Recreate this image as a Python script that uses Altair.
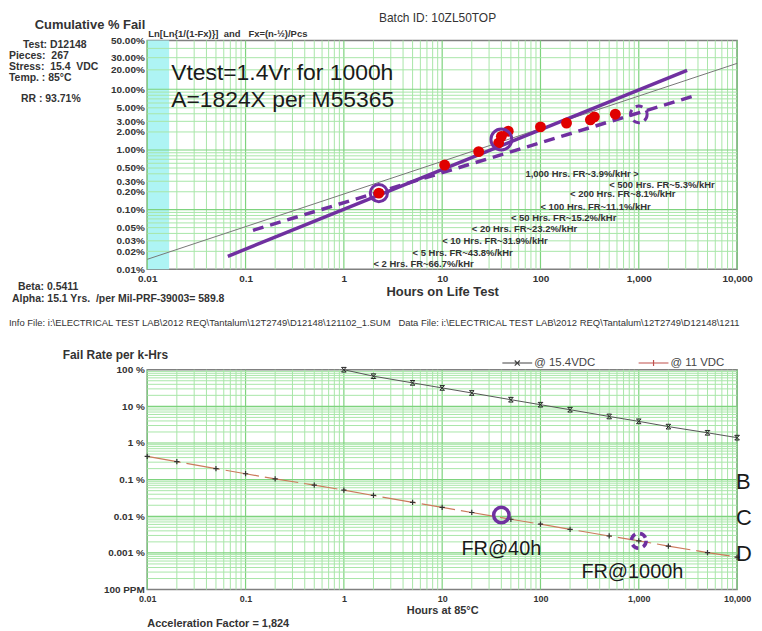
import math
import altair as alt
import pandas as pd

# ---------------- top panel (Weibull plot) ----------------
fail_hours = [2.27, 10.6, 23.5, 37.5, 40, 47, 100, 184, 322, 353, 577]
fail_pct = [0.19, 0.56, 0.94, 1.31, 1.69, 2.06, 2.43, 2.81, 3.18, 3.56, 3.93]

fit_hours = [0.01, 10000]
fit_pct = [0.0147, 24.9]
solid_hours = [0.066, 3100]
solid_pct = [0.0165, 19.6]
dash_hours = [0.119, 3840]
dash_pct = [0.045, 8.0]

ring_hours = [2.27, 40, 1000]
ring_pct = [0.19, 1.5, 3.9]

band_hours = [0.01, 0.0167]

fr_text = ["1,000 Hrs. FR~3.9%/kHr >", "< 500 Hrs. FR~5.3%/kHr", "< 200 Hrs. FR~8.1%/kHr",
           "< 100 Hrs. FR~11.1%/kHr", "< 50 Hrs. FR~15.2%/kHr", "< 20 Hrs. FR~23.2%/kHr",
           "< 10 Hrs. FR~31.9%/kHr", "< 5 Hrs. FR~43.8%/kHr", "< 2 Hrs. FR~66.7%/kHr"]
fr_hours = [1000, 500, 200, 100, 50, 20, 10, 5, 2]
fr_pct = [0.402, 0.263, 0.180, 0.113, 0.0712, 0.0466, 0.0295, 0.0186, 0.0122]

note_text = ["Vtest=1.4Vr for 1000h", "A=1824X per M55365"]
note_hours = [0.0175, 0.0175]
note_pct = [17.8, 6.6]

top_tick_pct = [50, 30, 20, 10, 5, 3, 2, 1, 0.5, 0.3, 0.2, 0.1, 0.05, 0.03, 0.02, 0.01]
top_grid_pct = [0.02, 0.03, 0.04, 0.05, 0.06, 0.07, 0.08, 0.09,
                0.2, 0.3, 0.4, 0.5, 0.6, 0.7, 0.8, 0.9,
                2, 3, 4, 5, 6, 7, 8, 9, 20, 30, 40]
top_major_pct = [0.1, 1, 10]

hour_ticks = [0.01, 0.1, 1, 10, 100, 1000, 10000]
hour_minor = [k * 10.0 ** e for e in range(-2, 4) for k in range(2, 10)]

# ---------------- bottom panel (fail rate) ----------------
hv_hours = [1, 2, 5, 10, 20, 50, 100, 200, 500, 1000, 2000, 5000, 10000]
hv_rate = [100, 66.7, 43.8, 31.9, 23.2, 15.2, 11.1, 8.1, 5.3, 3.9, 2.8, 1.9, 1.4]
lv_hours = [0.01, 0.02, 0.05, 0.1, 0.2, 0.5, 1, 2, 5, 10, 20, 50, 100, 200, 500, 1000, 2000, 5000, 10000]
lv_rate = [0.43, 0.31, 0.20, 0.145, 0.105, 0.071, 0.052, 0.037, 0.024, 0.0175, 0.0127,
           0.0083, 0.0061, 0.0044, 0.0029, 0.00214, 0.00154, 0.00102, 0.00077]
series_names = ["@ 15.4VDC", "@ 11 VDC"]

bot_ring_hours = [40, 1000]
bot_ring_rate = [0.0108, 0.00214]
bot_note_text = ["FR@40h", "FR@1000h"]
bot_note_hours = [40, 860]
bot_note_rate = [0.00128, 0.000305]
letter_text = ["B", "C", "D"]
letter_hours = [10000, 10000, 10000]
letter_rate = [0.085, 0.0089, 0.00094]

bot_tick_rate = [100, 10, 1, 0.1, 0.01, 0.001, 0.0001]
bot_minor_rate = [k * 10.0 ** e for e in range(-4, 2) for k in range(2, 10)]
bot_major_rate = [0.001, 0.01, 0.1, 1, 10]

# ---------------- styling ----------------
FONT = "Liberation Sans"
PURPLE = "#7030A0"
MINOR = "#a8e6a8"
MAJOR = "#7ed37e"
TXT = "#333333"
NB = "\u00a0"
W = 593
H_TOP = 230
H_BOT = 221

xs = alt.Scale(type="log", domain=[0.01, 10000], nice=False)
wlo = math.log(-math.log(1 - 0.0001))
whi = math.log(-math.log(1 - 0.5))
ys_top = alt.Scale(domain=[wlo, whi], nice=False, zero=False)
ys_bot = alt.Scale(type="log", domain=[0.0001, 100], nice=False)

WEXPR = "log(-log(1 - datum.pct/100))"
top_y_values = [math.log(-math.log(1 - p / 100)) for p in top_tick_pct]

AX_T = alt.Axis(values=hour_ticks, format=",", grid=False, ticks=False, domain=False, labelFlush=False,
                labelFont=FONT, labelFontSize=10, labelFontWeight="bold", labelColor=TXT, labelPadding=4,
                title="Hours on Life Test", titleFont=FONT, titleFontSize=13, titleFontWeight="bold",
                titleColor=TXT, titlePadding=2)
AY_T = alt.Axis(values=top_y_values, labelExpr="format(100*(1-exp(-exp(datum.value))), '.2f') + '%'",
                grid=False, ticks=False, domain=False, labelOverlap=False, labelBound=False,
                labelFont=FONT, labelFontSize=10, labelFontWeight="bold", labelColor=TXT, labelPadding=3,
                title=None)
AX_B = alt.Axis(values=hour_ticks, format=",", grid=False, ticks=False, domain=False, labelFlush=False,
                labelFont=FONT, labelFontSize=9, labelFontWeight="bold", labelColor=TXT, labelPadding=5,
                title="Hours at 85\u00b0C", titleFont=FONT, titleFontSize=11, titleFontWeight="bold",
                titleColor=TXT, titlePadding=1)
AY_B = alt.Axis(values=bot_tick_rate,
                labelExpr="datum.value < 0.0005 ? '100 PPM' : format(datum.value, ',') + ' %'",
                grid=False, ticks=False, domain=False, labelOverlap=False, labelBound=False,
                labelFont=FONT, labelFontSize=10, labelFontWeight="bold", labelColor=TXT, labelPadding=3,
                title=None)


def tchart(df):
    return alt.Chart(df).transform_calculate(w=WEXPR)


XT = alt.X("hours:Q", scale=xs, axis=AX_T)
YT = alt.Y("w:Q", scale=ys_top, axis=AY_T)
XB = alt.X("hours:Q", scale=xs, axis=AX_B)
YB = alt.Y("rate:Q", scale=ys_bot, axis=AY_B)


def label(text, x, y, size=10, weight="bold", align="left", color=TXT, baseline="middle", **kw):
    return alt.Chart(pd.DataFrame({"t": [text]})).mark_text(
        font=FONT, fontSize=size, fontWeight=weight, align=align, baseline=baseline,
        color=color, **kw
    ).encode(x=alt.value(x), y=alt.value(y), text="t:N")


# ---- top layers
band = alt.Chart(pd.DataFrame({"hours": [band_hours[0]], "b": [band_hours[1]]})).mark_rect(
    color="#aef4f4").encode(x=XT, x2="b:Q")
vminor_t = alt.Chart(pd.DataFrame({"hours": hour_minor})).mark_rule(color=MINOR, strokeWidth=1).encode(x=XT)
vmajor_t = alt.Chart(pd.DataFrame({"hours": hour_ticks})).mark_rule(color=MAJOR, strokeWidth=1.2).encode(x=XT)
hminor_t = tchart(pd.DataFrame({"pct": top_grid_pct})).mark_rule(color=MINOR, strokeWidth=1).encode(y=YT)
hmajor_t = tchart(pd.DataFrame({"pct": top_major_pct})).mark_rule(color=MAJOR, strokeWidth=1.2).encode(y=YT)

fit = tchart(pd.DataFrame({"hours": fit_hours, "pct": fit_pct})).mark_line(
    color="#777777", strokeWidth=1).encode(x=XT, y=YT)
solid = tchart(pd.DataFrame({"hours": solid_hours, "pct": solid_pct})).mark_line(
    color=PURPLE, strokeWidth=3.5).encode(x=XT, y=YT)
dashed = tchart(pd.DataFrame({"hours": dash_hours, "pct": dash_pct})).mark_line(
    color=PURPLE, strokeWidth=3.5, strokeDash=[11, 7]).encode(x=XT, y=YT)

points = tchart(pd.DataFrame({"hours": fail_hours, "pct": fail_pct})).mark_circle(
    color="#e00000", size=120, opacity=1).encode(x=XT, y=YT)

ring_df = pd.DataFrame({"hours": ring_hours, "pct": ring_pct})
ring1 = tchart(ring_df.iloc[[0]]).mark_point(shape="circle", size=300, strokeWidth=3, color=PURPLE,
                                            filled=False, opacity=1).encode(x=XT, y=YT)
ring2 = tchart(ring_df.iloc[[1]]).mark_point(shape="circle", size=440, strokeWidth=3, color=PURPLE,
                                            filled=False, opacity=1).encode(x=XT, y=YT)
ring3 = tchart(ring_df.iloc[[2]]).mark_point(shape="circle", size=280, strokeWidth=3, color=PURPLE,
                                            filled=False, opacity=1, strokeDash=[7, 5]).encode(x=XT, y=YT)

fr_df = pd.DataFrame({"hours": fr_hours, "pct": fr_pct, "t": fr_text})
fr_right = tchart(fr_df.iloc[[0]]).mark_text(font=FONT, fontSize=9.5, fontWeight="bold", align="right",
                                            color=TXT).encode(x=XT, y=YT, text="t:N")
fr_left = tchart(fr_df.iloc[1:]).mark_text(font=FONT, fontSize=9.5, fontWeight="bold", align="left",
                                          color=TXT).encode(x=XT, y=YT, text="t:N")
notes = tchart(pd.DataFrame({"hours": note_hours, "pct": note_pct, "t": note_text})).mark_text(
    font=FONT, fontSize=23, align="left", color="#1a1a1a").encode(x=XT, y=YT, text="t:N")

info_line = ("Info File: i:\\ELECTRICAL TEST LAB\\2012 REQ\\Tantalum\\12T2749\\D12148\\121102_1.SUM" + NB * 3 +
             "Data File: i:\\ELECTRICAL TEST LAB\\2012 REQ\\Tantalum\\12T2749\\D12148\\121102_1.DAT")

top_texts = [
    label(" ", -139, -30, size=1, baseline="top", color="white"),
    label(" ", -139, 291, size=1, baseline="bottom", color="white"),
    label("Cumulative % Fail", -2, -16, size=13, align="right"),
    label("Batch ID: 10ZL50TOP", 233, -23, size=12, weight="normal"),
    label("Ln[Ln{1/(1-Fx)}]" + NB * 2 + "and" + NB * 3 + "Fx=(n-\u00bd)/Pcs", 1, -7, size=9.5),
    label("Test: D12148", -125, 5, size=10.5),
    label("Pieces:" + NB * 2 + "267", -139, 16, size=10.5),
    label("Stress:" + NB * 2 + "15.4" + NB * 2 + "VDC", -139, 27, size=10.5),
    label("Temp. : 85\u00b0C", -139, 38, size=10.5),
    label("RR : 93.71%", -127, 59, size=10.5),
    label("Beta: 0.5411", -130, 248, size=10.5),
    label("Alpha: 15.1 Yrs." + NB * 2 + "/per Mil-PRF-39003= 589.8", -136, 260, size=10.5),
    label(info_line, -139, 284, size=9.5, weight="normal", limit=744, ellipsis=NB),
]

top = alt.layer(band, vminor_t, vmajor_t, hminor_t, hmajor_t, fit, solid, dashed, points,
                ring1, ring2, ring3, fr_right, fr_left, notes, *top_texts).properties(
    width=W, height=H_TOP)

# ---- bottom layers
vminor_b = alt.Chart(pd.DataFrame({"hours": hour_minor})).mark_rule(color=MINOR, strokeWidth=1).encode(x=XB)
vmajor_b = alt.Chart(pd.DataFrame({"hours": hour_ticks})).mark_rule(color=MAJOR, strokeWidth=1.2).encode(x=XB)
hminor_b = alt.Chart(pd.DataFrame({"rate": bot_minor_rate})).mark_rule(color=MINOR, strokeWidth=1).encode(y=YB)
hmajor_b = alt.Chart(pd.DataFrame({"rate": bot_major_rate})).mark_rule(color=MAJOR, strokeWidth=1.2).encode(y=YB)

hv_df = pd.DataFrame({"hours": hv_hours, "rate": hv_rate})
lv_df = pd.DataFrame({"hours": lv_hours, "rate": lv_rate})
hv_line = alt.Chart(hv_df).mark_line(color="#555555", strokeWidth=1).encode(x=XB, y=YB)
lv_line = alt.Chart(lv_df).mark_line(color="#cc7a5c", strokeWidth=1.2, strokeDash=[34, 6]).encode(x=XB, y=YB)

XMARK = "M-1,-1L1,-1L-1,1L1,1Z"
PLUS = "M-1,0L1,0M0,-1L0,1"
hv_pts = alt.Chart(hv_df).mark_point(shape=XMARK, size=22, color="#222222", strokeWidth=1,
                                     filled=False, opacity=1).encode(x=XB, y=YB)
lv_pts = alt.Chart(lv_df).mark_point(shape=PLUS, size=28, color="#333333", strokeWidth=1.2,
                                     filled=False, opacity=1).encode(x=XB, y=YB)

legend_df = pd.DataFrame({"series": series_names, "hours": [1, 1], "rate": [1, 1]})
legend_layer = alt.Chart(legend_df).transform_filter("false").mark_point(
    filled=False, strokeWidth=1.2, opacity=1).encode(
    x=XB, y=YB,
    color=alt.Color("series:N", scale=alt.Scale(domain=series_names, range=["#444444", "#c0504d"]),
                    legend=alt.Legend(orient="none", legendX=356, legendY=-23, direction="horizontal",
                                      title=None, symbolSize=900, labelFont=FONT, labelFontSize=11.5,
                                      labelColor="#444444", columnPadding=40, labelOffset=1,
                                      symbolStrokeWidth=1.2)),
    shape=alt.Shape("series:N", scale=alt.Scale(
        domain=series_names,
        range=["M-1,0L1,0M-0.17,-0.17L0.17,0.17M-0.17,0.17L0.17,-0.17",
               "M-1,0L1,0M0,-0.2L0,0.2"]), legend=None))

bring_df = pd.DataFrame({"hours": bot_ring_hours, "rate": bot_ring_rate})
bring1 = alt.Chart(bring_df.iloc[[0]]).mark_point(shape="circle", size=240, strokeWidth=3.5, color=PURPLE,
                                                 filled=False, opacity=1).encode(x=XB, y=YB)
bring2 = alt.Chart(bring_df.iloc[[1]]).mark_point(shape="circle", size=220, strokeWidth=3.5, color=PURPLE,
                                                 filled=False, opacity=1, strokeDash=[7, 5]).encode(x=XB, y=YB)
bnotes = alt.Chart(pd.DataFrame({"hours": bot_note_hours, "rate": bot_note_rate, "t": bot_note_text})).mark_text(
    font=FONT, fontSize=20, align="center", color="#1a1a1a").encode(x=XB, y=YB, text="t:N")
letters = alt.Chart(pd.DataFrame({"hours": letter_hours, "rate": letter_rate, "t": letter_text})).mark_text(
    font=FONT, fontSize=22, align="left", dx=-1, color="#1a1a1a").encode(x=XB, y=YB, text="t:N")

bot_texts = [
    label(" ", -139, -26, size=1, baseline="top", color="white"),
    label("Fail Rate per k-Hrs", -85, -15, size=12),
    label("Acceleration Factor = 1,824", 0, 256, size=11),
]

bottom = alt.layer(vminor_b, vmajor_b, hminor_b, hmajor_b, hv_line, lv_line, hv_pts, lv_pts,
                   legend_layer, bring1, bring2, bnotes, letters, *bot_texts).properties(
    width=W, height=H_BOT)

chart = alt.vconcat(top, bottom, spacing=12).resolve_scale(
    color="independent", shape="independent").properties(padding=0).configure_view(
    stroke="#808080", strokeWidth=1.5)

chart.save("out.html", embed_options={"renderer": "svg", "actions": False})
